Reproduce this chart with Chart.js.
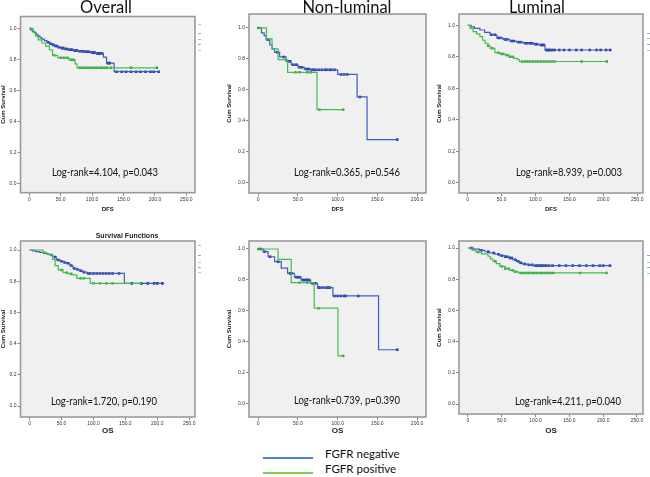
<!DOCTYPE html>
<html><head><meta charset="utf-8">
<script src="https://cdn.jsdelivr.net/npm/chart.js@4"></script>
<style>
html,body{margin:0;padding:0;background:#fff;width:650px;height:477px;overflow:hidden;position:relative;font-family:"Open Sans",sans-serif}
canvas{position:absolute;z-index:1}
.t{position:absolute;white-space:nowrap;color:#111;transform:translate(-50%,-50%);z-index:3;line-height:1}
.ttl{font-family:Lato,"Open Sans",sans-serif;font-size:16.5px}
.lr{font-family:Lato,"Open Sans",sans-serif;font-size:10.8px;transform:translate(-50%,-50%) scaleX(0.88)}
.lg{position:absolute;height:2px}
.lgt{position:absolute;font-family:Lato,"Open Sans",sans-serif;font-size:11.5px;color:#111;white-space:nowrap}
.mk{position:absolute;width:3px;height:1px;z-index:3}
</style></head><body>
<div class="t ttl" style="left:106px;top:7px">Overall</div>
<div class="t ttl" style="left:347px;top:7px">Non-luminal</div>
<div class="t ttl" style="left:537px;top:7px">Luminal</div>
<div class="t" style="left:127px;top:235px;font-family:'Liberation Sans',sans-serif;font-weight:bold;font-size:7px;color:#222">Survival Functions</div>
<div class="t lr" style="left:105px;top:172px">Log-rank=4.104, p=0.043</div>
<div class="t lr" style="left:347px;top:172px">Log-rank=0.365, p=0.546</div>
<div class="t lr" style="left:569px;top:172px">Log-rank=8.939, p=0.003</div>
<div class="t lr" style="left:104px;top:401px">Log-rank=1.720, p=0.190</div>
<div class="t lr" style="left:347px;top:400px">Log-rank=0.739, p=0.390</div>
<div class="t lr" style="left:568px;top:401px">Log-rank=4.211, p=0.040</div>
<div class="lg" style="left:263px;top:457px;width:50px;background:#4f7fcf"></div>
<div class="lg" style="left:263px;top:472px;width:50px;background:#7fcf4f"></div>
<div class="lgt" style="left:325px;top:447px">FGFR negative</div>
<div class="lgt" style="left:325px;top:462px">FGFR positive</div>
<!-- cropped legend fragments at the panels' right edges -->
<div class="mk" style="left:198px;top:24px;background:#bbb"></div>
<div class="mk" style="left:198px;top:33px;background:#8fa3e0"></div>
<div class="mk" style="left:198px;top:39px;background:#9ad8a0"></div>
<div class="mk" style="left:198px;top:44px;background:#8fa3e0"></div>
<div class="mk" style="left:198px;top:50px;background:#9ad8a0"></div>
<div class="mk" style="left:647px;top:33px;background:#8fa3e0"></div>
<div class="mk" style="left:647px;top:38px;background:#9ad8a0"></div>
<div class="mk" style="left:647px;top:44px;background:#8fa3e0"></div>
<div class="mk" style="left:647px;top:50px;background:#9ad8a0"></div>
<div class="mk" style="left:198px;top:245px;background:#bbb"></div>
<div class="mk" style="left:198px;top:255px;background:#8fa3e0"></div>
<div class="mk" style="left:198px;top:262px;background:#9ad8a0"></div>
<div class="mk" style="left:198px;top:267px;background:#8fa3e0"></div>
<div class="mk" style="left:198px;top:272px;background:#9ad8a0"></div>
<div class="mk" style="left:647px;top:255px;background:#8fa3e0"></div>
<div class="mk" style="left:647px;top:262px;background:#9ad8a0"></div>
<div class="mk" style="left:647px;top:267px;background:#8fa3e0"></div>
<div class="mk" style="left:647px;top:273px;background:#9ad8a0"></div>

<canvas id="c1"></canvas><canvas id="c2"></canvas><canvas id="c3"></canvas>
<canvas id="c4"></canvas><canvas id="c5"></canvas><canvas id="c6"></canvas>
<script>
// ---------- DATA ----------
const groups = ['FGFR negative', 'FGFR positive'];
const yTickValues = [0, 0.2, 0.4, 0.6, 0.8, 1.0];
const xTickValuesWide = [0, 50, 100, 150, 200, 250];
const xTickValuesNarrow = [0, 50, 100, 150, 200];

// Panel 1: Overall DFS
const p1NegT = [0,2,5,8,11,14,17,20,24,28,32,36,40,45,50,56,62,70,78,88,98,106,118,123,135,208];
const p1NegS = [1,0.99,0.98,0.97,0.96,0.95,0.94,0.93,0.92,0.91,0.90,0.893,0.885,0.878,0.872,0.866,0.861,0.856,0.852,0.848,0.843,0.838,0.814,0.775,0.72,0.72];
const p1NegC = [30,34,38,42,44,47,52,54,58,60,64,66,68,72,74,76,80,84,86,90,92,95,100,102,104,108,110,112,115,125,128,139,147,154,162,170,177,185,193,198,206];
const p1PosT = [0,6,10,14,20,26,32,37,45,63,73,76,203];
const p1PosS = [1,0.975,0.95,0.925,0.905,0.885,0.86,0.825,0.81,0.797,0.77,0.745,0.745];
const p1PosC = [40,50,55,60,66,70,80,84,88,92,96,100,104,108,112,116,120,124,130,162,203];

// Panel 2: Non-luminal DFS
const p2NegT = [0,4,7.5,10,14.5,17.4,20.7,27,35,41.5,50,58,66,100,124.5,137,175];
const p2NegS = [1,0.968,0.95,0.925,0.89,0.865,0.843,0.813,0.785,0.763,0.746,0.735,0.73,0.70,0.555,0.28,0.28];
const p2NegC = [12,24,32,38,40,44,48,52,55,60,62,64,68,70,72,76,80,84,86,90,92,96,104,108,112,128,175];
const p2PosT = [0,10.4,17.4,25,37,74,107];
const p2PosS = [1,0.93,0.865,0.796,0.714,0.473,0.473];
const p2PosC = [0,47,52,62,66,77,107];

// Panel 3: Luminal DFS
const p3NegT = [0,5,10,18,25,33,43,52,62,72,82,97,105,114,210];
const p3NegS = [1,0.99,0.98,0.97,0.955,0.94,0.92,0.91,0.90,0.893,0.886,0.88,0.875,0.843,0.843];
const p3NegC = [35,40,45,48,55,58,65,68,75,78,85,88,92,95,100,102,108,110,112,116,118,120,122,125,128,135,142,150,160,168,180,190,196,204,210];
const p3PosT = [0,3.4,8,13,18,22,25.5,30,33,40,47.6,55,62,68,73,76,205];
const p3PosS = [1,0.98,0.96,0.945,0.928,0.905,0.886,0.87,0.854,0.826,0.818,0.81,0.80,0.79,0.784,0.77,0.77];
const p3PosC = [30,36,45,50,52,58,62,66,80,84,88,92,96,100,104,108,112,116,120,124,128,168,205];

// Panel 4: Overall OS
const p4NegT = [0,5,10,16,22,28,31.5,36,42,48,54,58,63,68,74,79,84,89.5,148.4,208];
const p4NegS = [1,0.995,0.99,0.985,0.978,0.972,0.968,0.955,0.936,0.928,0.92,0.915,0.9,0.882,0.875,0.867,0.858,0.85,0.786,0.786];
const p4NegC = [40,45,50,55,60,65,70,75,80,85,92,95,100,105,110,115,120,125,130,140,160,175,185,195,200,208];
const p4PosT = [0,21,26,31.5,36,40,45,52.6,60,66,74,95,175];
const p4PosS = [1,0.985,0.975,0.968,0.94,0.9,0.872,0.855,0.848,0.84,0.818,0.786,0.786];
const p4PosC = [35,50,58,65,80,85,100,110,120,130,175];

// Panel 5: Non-luminal OS
const p5NegT = [0,6.2,12.4,20.7,29,37,45.6,54,66,74.7,94,151.5,175];
const p5NegS = [1,0.983,0.95,0.918,0.876,0.843,0.818,0.80,0.779,0.751,0.697,0.35,0.35];
const p5NegC = [3,8,15,25,40,42,48,50,52,56,58,60,62,64,68,70,72,76,78,82,86,88,90,96,100,104,108,110,126,175];
const p5PosT = [0,25,41.5,70.5,100.4,107];
const p5PosS = [1,0.933,0.783,0.618,0.31,0.31];
const p5PosC = [0,52,62,76,107];

// Panel 6: Luminal OS
const p6NegT = [0,8,17,25,32,40,47,54,61.6,66,71.5,76,81,88,96,210];
const p6NegS = [1,0.993,0.985,0.976,0.968,0.96,0.951,0.944,0.936,0.925,0.915,0.905,0.897,0.892,0.887,0.887];
const p6NegC = [5,20,30,38,45,50,55,58,62,65,70,74,78,84,90,95,100,102,105,108,110,113,116,120,125,135,145,155,165,175,185,195,200,210];
const p6PosT = [0,6,12,20,29.6,33,37,42,47,55,61.6,68,74,205.6];
const p6PosS = [1,0.987,0.974,0.962,0.947,0.93,0.915,0.9,0.882,0.868,0.857,0.848,0.84,0.84];
const p6PosC = [15,40,50,55,60,66,70,78,82,86,90,94,98,102,106,110,114,118,122,126,166,205];

// ---------- DRAWING ----------
const NEG_LINE = '#3f5cc0', NEG_MARK = '#1f35a0';
const POS_LINE = '#45bb4e', POS_MARK = '#2aa238';

function survAt(T, S, t) {            // KM step-function lookup
  let v = S[0];
  for (let i = 0; i < T.length; i++) { if (T[i] <= t) v = S[i]; else break; }
  return v;
}
const framePlugin = {
  id: 'frame',
  beforeDraw(chart) {
    const a = chart.chartArea, c = chart.ctx;
    c.save();
    c.fillStyle = '#f0f0f0';
    c.fillRect(a.left, a.top, a.right - a.left, a.bottom - a.top);
    c.restore();
  },
  afterDraw(chart) {
    const a = chart.chartArea, c = chart.ctx;
    c.save();
    c.strokeStyle = '#9a9a9a'; c.lineWidth = 1.6;
    c.strokeRect(a.left, a.top, a.right - a.left, a.bottom - a.top);
    c.restore();
  }
};

function makePanel(id, box, frame, xr, yr, xTicks, neg, pos, xTitle, xTitleSize, yTitlePad) {
  const cv = document.getElementById(id);
  cv.style.left = box[0] + 'px'; cv.style.top = box[1] + 'px';
  cv.style.width = box[2] + 'px'; cv.style.height = box[3] + 'px';
  cv.width = box[2]; cv.height = box[3];
  const yW = frame[0] - box[0];
  const xH = box[1] + box[3] - frame[3];
  const mk = (T, S) => T.map((t, i) => ({x: t, y: S[i]}));
  const mc = (T, S, C) => C.map(t => ({x: t, y: survAt(T, S, t)}));
  new Chart(cv, {
    type: 'line',
    data: {
      datasets: [
        {label: groups[1], data: mk(pos[0], pos[1]), stepped: true, borderColor: POS_LINE, borderWidth: 1.2, pointRadius: 0, fill: false},
        {label: groups[1] + ' censored', type: 'scatter', data: mc(pos[0], pos[1], pos[2]), pointStyle: 'rect', pointRadius: 1.7, backgroundColor: POS_MARK, borderWidth: 0},
        {label: groups[0], data: mk(neg[0], neg[1]), stepped: true, borderColor: NEG_LINE, borderWidth: 1.2, pointRadius: 0, fill: false},
        {label: groups[0] + ' censored', type: 'scatter', data: mc(neg[0], neg[1], neg[2]), pointStyle: 'rect', pointRadius: 1.8, backgroundColor: NEG_MARK, borderWidth: 0}
      ]
    },
    options: {
      responsive: false, animation: false, devicePixelRatio: 1,
      layout: {padding: {left: 0, top: frame[1] - box[1], right: box[0] + box[2] - frame[2], bottom: 0}},
      plugins: {legend: {display: false}, tooltip: {enabled: false}},
      scales: {
        x: {
          type: 'linear', min: xr[0], max: xr[1],
          afterBuildTicks: s => { s.ticks = xTicks.map(v => ({value: v})); },
          afterFit: s => { s.height = xH; },
          ticks: {autoSkip: false, maxRotation: 0, padding: 1, color: '#333', font: {size: 5, family: 'Liberation Sans'},
                  callback: v => v === 0 ? '0' : v.toFixed(1)},
          grid: {display: true, drawOnChartArea: false, tickLength: 3, color: '#666', lineWidth: 0.8},
          border: {display: false},
          title: {display: true, text: xTitle, color: '#222', font: {size: xTitleSize, weight: 'bold', family: 'Liberation Sans'}, padding: {top: 0, bottom: 11 - xTitleSize * 0.6}}
        },
        y: {
          type: 'linear', min: yr[0], max: yr[1],
          afterBuildTicks: s => { s.ticks = yTickValues.map(v => ({value: v})); },
          afterFit: s => { s.width = yW; },
          ticks: {autoSkip: false, padding: 1, color: '#333', font: {size: 5, family: 'Liberation Sans'},
                  callback: v => v.toFixed(1)},
          grid: {display: true, drawOnChartArea: false, tickLength: 3, color: '#666', lineWidth: 0.8},
          border: {display: false},
          title: {display: true, text: 'Cum Survival', color: '#222', font: {size: 6, weight: 'bold', family: 'Liberation Sans'}, padding: {top: yTitlePad, bottom: 0}}
        }
      }
    },
    plugins: [framePlugin]
  });
}

makePanel('c1', [0,0,215,220],   [20.5,16.5,195,192.7], [-14,263.8], [-0.061,1.076], xTickValuesWide,
  [p1NegT,p1NegS,p1NegC], [p1PosT,p1PosS,p1PosC], 'DFS', 6, 0);
makePanel('c2', [215,0,215,220], [249,14,428,193], [-11.6,211.2], [-0.0645,1.09], xTickValuesNarrow,
  [p2NegT,p2NegS,p2NegC], [p2PosT,p2PosS,p2PosC], 'DFS', 6, 11);
makePanel('c3', [430,0,220,220], [459,14,643,193], [-12.8,258.4], [-0.0654,1.0718], xTickValuesWide,
  [p3NegT,p3NegS,p3NegC], [p3PosT,p3PosS,p3PosC], 'DFS', 6, 6);
makePanel('c4', [0,220,215,222],   [20.5,241,195,417], [-14.2,259], [-0.0705,1.0577], xTickValuesWide,
  [p4NegT,p4NegS,p4NegC], [p4PosT,p4PosS,p4PosC], 'OS', 8, 0);
makePanel('c5', [215,220,215,222], [249,241,428,417], [-11.6,211.2], [-0.0839,1.0516], xTickValuesNarrow,
  [p5NegT,p5NegS,p5NegC], [p5PosT,p5PosS,p5PosC], 'OS', 8, 11);
makePanel('c6', [430,220,220,222], [459,241,643,414], [-13.3,258.9], [-0.064,1.0449], xTickValuesWide,
  [p6NegT,p6NegS,p6NegC], [p6PosT,p6PosS,p6PosC], 'OS', 8, 6);
</script>
</body></html>
